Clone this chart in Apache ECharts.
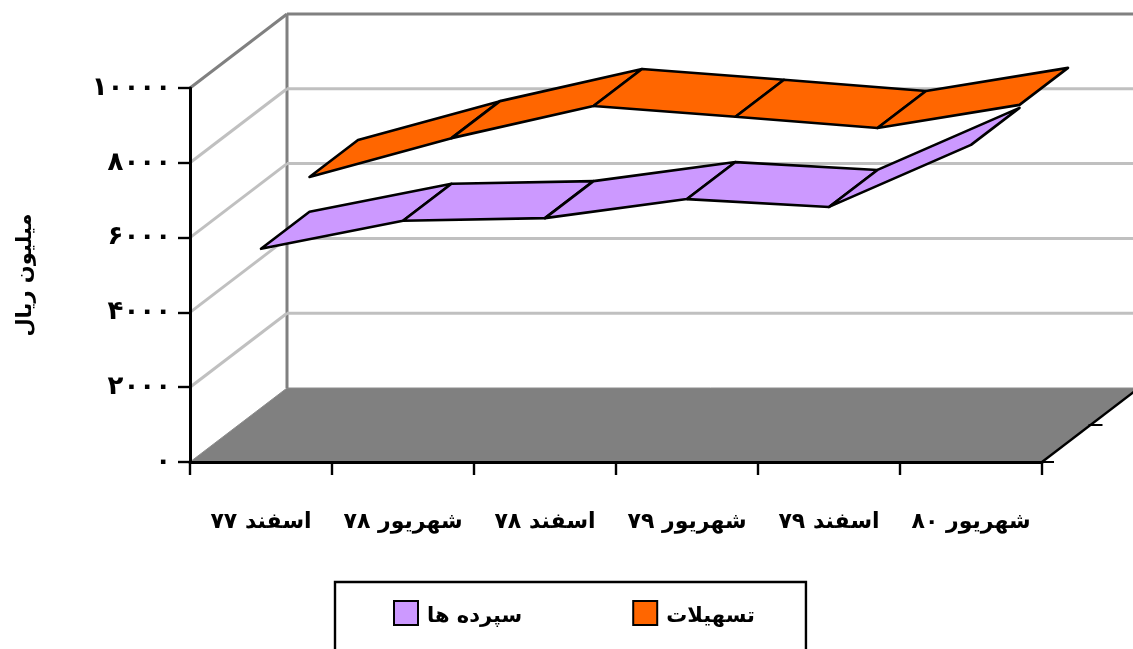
<!DOCTYPE html>
<html><head><meta charset="utf-8">
<style>html,body{margin:0;padding:0;background:#fff;overflow:hidden}#c{width:1133px;height:649px}</style>
<script src="https://cdn.jsdelivr.net/npm/echarts@6/dist/echarts.min.js"></script>
</head><body><div id="c"></div>
<script>
const categories = ['اسفند ۷۷','شهریور ۷۸','اسفند ۷۸','شهریور ۷۹','اسفند ۷۹','شهریور ۸۰'];
const deposits = [5700,6450,6520,7030,6820,8480];
const loans = [6630,7670,8530,8240,7940,8560];
const valueTicks = [0,2000,4000,6000,8000,10000];
const tickLabels = ['۰','۲۰۰۰','۴۰۰۰','۶۰۰۰','۸۰۰۰','۱۰۰۰۰'];
const depositsName = 'سپرده ها';
const loansName = 'تسهیلات';
const axisName = 'میلیون ریال';

const FONT = '"DejaVu Sans"';
const DX = 97, DY = -74;

function project(p, depth){ return [p[0] + DX*depth, p[1] + DY*depth]; }

function ribbon(name, values, color, d0, d1){
  return {
    type:'custom', name, coordinateSystem:'cartesian2d', z:5,
    itemStyle:{color, borderColor:'#000', borderWidth:2},
    encode:{x:0,y:1},
    data: values.slice(0,-1).map((v,i)=>[i,v,values[i+1]]),
    renderItem(params, api){
      const i = api.value(0);
      const a = api.coord([i, api.value(1)]);
      const b = api.coord([i+1, api.value(2)]);
      return {type:'polygon', shape:{points:[project(a,d0),project(b,d0),project(b,d1),project(a,d1)]},
        style:{fill:color, stroke:'#000', lineWidth:2.6, lineJoin:'round'}};
    }
  };
}

const wallSeries = {
  type:'custom', coordinateSystem:'cartesian2d', z:1, silent:true, legendHoverLink:false,
  encode:{y:0}, data: valueTicks.map(v=>[v]),
  renderItem(params, api){
    const v = api.value(0);
    const l = api.coord([0, v]); const size = api.size([1,0]);
    const x0 = l[0]-size[0]/2, y = l[1];
    const x1 = x0 + size[0]*categories.length;
    const top = v === valueTicks[valueTicks.length-1];
    if (v === 0) {
      const zero = [x0,y], zr = [x1,y];
      const mid = project(zr,0.5);
      return {type:'group', children:[
        {type:'polygon', shape:{points:[zero,zr,project(zr,1),project(zero,1)]}, style:{fill:'#808080', stroke:'#8c8c8c', lineWidth:1}},
        {type:'line', shape:{x1:zr[0],y1:zr[1],x2:project(zr,1)[0],y2:project(zr,1)[1]}, style:{stroke:'#000',lineWidth:2.4}},
        {type:'line', shape:{x1:zr[0],y1:zr[1],x2:zr[0]+12,y2:zr[1]}, style:{stroke:'#000',lineWidth:2}},
        {type:'line', shape:{x1:mid[0]-2,y1:mid[1],x2:mid[0]+12,y2:mid[1]}, style:{stroke:'#000',lineWidth:2}},
        {type:'line', shape:{x1:x0+DX,y1:y+DY,x2:x0+DX,y2:y+DY-api.size([0,10000])[1]}, style:{stroke:'#808080',lineWidth:3}}
      ]};
    }
    const col = top ? '#808080' : '#c0c0c0';
    const children = [
      {type:'line', shape:{x1:x0,y1:y,x2:x0+DX,y2:y+DY}, style:{stroke:col,lineWidth:3}},
      {type:'line', shape:{x1:x0+DX,y1:y+DY,x2:x1+DX,y2:y+DY}, style:{stroke:col,lineWidth:3}}
    ];
    return {type:'group', children};
  }
};

const chart = echarts.init(document.getElementById('c'), null, {renderer:'canvas'});
chart.setOption({
  animation:false,
  backgroundColor:'#fff',
  textStyle:{fontFamily:FONT},
  grid:{left:190,right:91,top:88,bottom:187,containLabel:false,outerBoundsMode:'none'},
  legend:{
    show:true, data:[depositsName,loansName], left:335, top:582,
    orient:'horizontal', icon:'rect', itemWidth:24, itemHeight:24, itemGap:110,
    padding:[18,51,60,58], borderColor:'#000', borderWidth:2.4, borderRadius:0,
    backgroundColor:'#fff', selectedMode:false,
    formatter:n=>'{t|'+n+'}',
    textStyle:{fontFamily:FONT,fontWeight:'bold',fontSize:21,color:'#000',
      rich:{t:{fontFamily:FONT,fontWeight:'bold',fontSize:21,color:'#000',padding:[8,0,0,4]}}}
  },
  xAxis:{type:'category',data:categories,boundaryGap:true,z:6,
    axisLine:{show:true,lineStyle:{color:'#000',width:3}},
    axisTick:{show:true,alignWithLabel:false,length:13,inside:false,lineStyle:{color:'#000',width:2.4}},
    axisLabel:{interval:0,margin:49,color:'#000',fontFamily:FONT,fontWeight:'bold',fontSize:22,hideOverlap:false},
    splitLine:{show:false}},
  yAxis:{type:'value',min:0,max:10000,interval:2000,z:6,
    name:axisName,nameLocation:'middle',nameRotate:90,nameGap:154,
    nameTextStyle:{color:'#000',fontFamily:FONT,fontWeight:'bold',fontSize:21},
    axisLine:{show:true,lineStyle:{color:'#000',width:3}},
    axisTick:{show:true,length:12,lineStyle:{color:'#000',width:2.4}},
    axisLabel:{margin:19,color:'#000',fontFamily:FONT,fontWeight:'bold',fontSize:26,
      formatter:v=>tickLabels[valueTicks.indexOf(v)]},
    splitLine:{show:false}},
  series:[wallSeries, ribbon(depositsName,deposits,'#cc99ff',0,0.5), ribbon(loansName,loans,'#ff6600',0.5,1)]
});
</script></body></html>
